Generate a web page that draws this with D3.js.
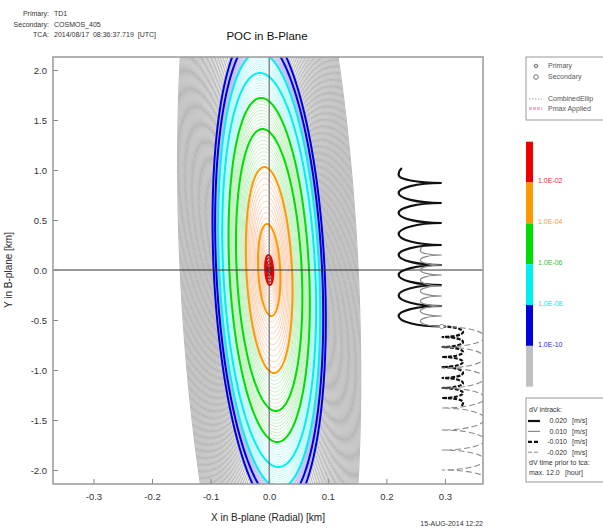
<!DOCTYPE html>
<html>
<head>
<meta charset="utf-8">
<script src="https://cdn.jsdelivr.net/npm/d3@7"></script>
<style>
body { margin: 0; background: #fff; }
svg { font-family: Arial, "Liberation Sans", sans-serif; }
</style>
</head>
<body>
<div id="chart"></div>
<script>
// header text
const headerLabels = ["Primary:", "Secondary:", "TCA:"];
const headerValues = ["TD1", "COSMOS_405", "2014/08/17  08:36:37.719  [UTC]"];

// POC contours : log10(POC) level -> ellipse size (km)
const decadeLevels = [-1.985, -2, -3, -4, -5, -6, -7, -8, -9, -10, -20];
const decadeSemiY  = [0, 0.15, 0.46, 1.03, 1.41, 1.72, 1.97, 2.18, 2.33, 2.44, 4.6];
const decadeHalfX  = [0, 0.0068, 0.0188, 0.039, 0.0555, 0.068, 0.0785, 0.0853, 0.0904, 0.0947, 0.152];
const ellipseLean  = -0.008;   // x shift per km of y
const thickLevels  = [-2, -3, -4, -5, -6, -7, -8, -9, -10];
const coreLevels   = [-1.988, -1.991, -1.994, -1.997];

// colour bands
const bandEdges  = [-2, -4, -6, -8, -10];
const bandLabels = ["1.0E-02", "1.0E-04", "1.0E-06", "1.0E-08", "1.0E-10"];
const bandColors = ["#ee0000", "#ff9900", "#00dd00", "#00f0f0", "#0000dd", "#c0c0c0"];
const bandThin   = ["#c00000", "#f7c4a0", "#b4eeb4", "#b0f4f4", "#b8b8f2", "#b8b8b8"];
const bandText   = ["#e03030", "#f0a040", "#30c030", "#30d8e0", "#2828d0"];

// dV intrack trajectories (km) : turning points from t=0 outwards, alternating cusp / far side
const dvValues = ["0.020", "0.010", "-0.010", "-0.020"];
const dvCuspX  = 0.2945;
const dvFarX   = [0.221, 0.258, 0.331, 0.368];
const dvTurnY  = [
  [-0.565, -0.46, -0.36, -0.255, -0.15, -0.05, 0.05, 0.15, 0.25, 0.36, 0.47, 0.57, 0.67, 0.77, 0.87, 0.95],
  [-0.565, -0.51, -0.46, -0.41, -0.36, -0.31, -0.26, -0.21, -0.16, -0.10, -0.05, 0.0, 0.05, 0.10, 0.15, 0.19],
  [-0.565, -0.62, -0.67, -0.72, -0.77, -0.82, -0.87, -0.92, -0.97, -1.03, -1.08, -1.13, -1.18, -1.23, -1.28, -1.32],
  [-0.565, -0.67, -0.77, -0.875, -0.98, -1.08, -1.18, -1.28, -1.38, -1.49, -1.60, -1.70, -1.80, -1.90, -2.00, -2.08]
];
const dvEnd = [[0.2265, 1.02], [0.2605, 0.23], [0.3285, -1.36], [0.3625, -2.15]];
const dvStyle = [
  {color: "#111", width: 2.2, dash: null},
  {color: "#8a8a8a", width: 1.2, dash: null},
  {color: "#111", width: 2.2, dash: "4,1.5"},
  {color: "#8a8a8a", width: 1.1, dash: "6,3"}
];

const xTicks = [-0.3, -0.2, -0.1, 0.0, 0.1, 0.2, 0.3];
const yTicks = [2.0, 1.5, 1.0, 0.5, 0.0, -0.5, -1.0, -1.5, -2.0];

const W = 603, H = 529;
const plot = {left: 53, right: 483, top: 57, bottom: 484};

const svg = d3.select("#chart").append("svg")
  .attr("width", W).attr("height", H);

const x = d3.scaleLinear().domain([-0.369, 0.365]).range([plot.left, plot.right]);
const y = d3.scaleLinear().domain([-2.14, 2.13]).range([plot.bottom, plot.top]);

svg.append("clipPath").attr("id", "clip")
  .append("rect")
  .attr("x", plot.left).attr("y", plot.top)
  .attr("width", plot.right - plot.left).attr("height", plot.bottom - plot.top);

const g = svg.append("g").attr("clip-path", "url(#clip)");

//ELLIPSES
const semiY = d3.scaleLinear().domain(decadeLevels).range(decadeSemiY);
const halfX = d3.scaleLinear().domain(decadeLevels).range(decadeHalfX);
const angles = d3.range(0, 2 * Math.PI, Math.PI / 120);

function bandOf(l) {
  const i = bandEdges.findIndex(e => l >= e - 1e-9);
  return i < 0 ? bandEdges.length : i;
}

function ellipse(l) {
  const s = semiY(l), h = halfX(l);
  return d3.line()
    .curve(d3.curveLinearClosed)
    .x(a => x(h * Math.cos(a) + ellipseLean * s * Math.sin(a)))
    .y(a => y(s * Math.sin(a)))(angles);
}

// thin contour levels, 10 per decade, coarser in the grey part
const thinLevels = d3.range(-2.1, -10, -0.1)
  .filter(l => Math.abs(l - Math.round(l)) > 0.01)
  .concat(d3.range(-10.25, -20.01, -0.25))
  .concat(coreLevels);

g.selectAll(".thin")
  .data(thinLevels)
  .enter().append("path")
  .attr("class", "thin")
  .attr("d", ellipse)
  .attr("fill", "none")
  .attr("stroke", l => bandThin[bandOf(l)])
  .attr("stroke-width", l => l > -2 ? 1.2 : (l < -10 ? 1 : 0.8));

g.selectAll(".thick")
  .data(thickLevels)
  .enter().append("path")
  .attr("class", "thick")
  .attr("d", ellipse)
  .attr("fill", "none")
  .attr("stroke", l => bandColors[bandOf(l)])
  .attr("stroke-width", 2);

// zero lines
g.append("line")
  .attr("x1", plot.left).attr("x2", plot.right)
  .attr("y1", y(0)).attr("y2", y(0))
  .attr("stroke", "#333").attr("stroke-width", 1);
g.append("line")
  .attr("x1", x(0)).attr("x2", x(0))
  .attr("y1", plot.top).attr("y2", plot.bottom)
  .attr("stroke", "#555").attr("stroke-width", 1);

//DV TRAJECTORIES
function trajectory(i) {
  const p = d3.path();
  const ys = dvTurnY[i], xf = dvFarX[i], x0 = dvCuspX;
  p.moveTo(x(x0), y(ys[0]));
  for (let k = 1; k < ys.length; k++) {
    const ya = y(ys[k - 1]), yb = y(ys[k]);
    if (k % 2 == 1) {
      // cusp -> far side
      p.bezierCurveTo(x(x0) + 0.6 * (x(xf) - x(x0)), ya, x(xf), yb + 0.5 * (ya - yb), x(xf), yb);
    } else {
      // far side -> cusp
      p.bezierCurveTo(x(xf), ya + 0.5 * (yb - ya), x(x0) + 0.6 * (x(xf) - x(x0)), yb, x(x0), yb);
    }
  }
  const e = dvEnd[i], yl = y(ys[ys.length - 1]);
  p.quadraticCurveTo(x(xf), yl + 0.6 * (y(e[1]) - yl), x(e[0]), y(e[1]));
  return p.toString();
}

dvValues.forEach((v, i) => {
  g.append("path")
    .attr("d", trajectory(i))
    .attr("fill", "none")
    .attr("stroke", dvStyle[i].color)
    .attr("stroke-width", dvStyle[i].width)
    .attr("stroke-dasharray", dvStyle[i].dash);
});

g.append("circle")
  .attr("cx", x(dvCuspX)).attr("cy", y(dvTurnY[0][0]))
  .attr("r", 2.2)
  .attr("fill", "#fff").attr("stroke", "#999").attr("stroke-width", 1);

//AXES
const fmt = d => d.toFixed(1);

const xAxis = svg.append("g")
  .attr("transform", "translate(0," + plot.bottom + ")")
  .call(d3.axisBottom(x).tickValues(xTicks).tickFormat(fmt).tickSizeInner(-5).tickSizeOuter(0).tickPadding(9));
const yAxis = svg.append("g")
  .attr("transform", "translate(" + plot.left + ",0)")
  .call(d3.axisLeft(y).tickValues(yTicks).tickFormat(fmt).tickSizeInner(-5).tickSizeOuter(0).tickPadding(6));

[xAxis, yAxis].forEach(a => {
  a.select(".domain").remove();
  a.selectAll(".tick line").attr("stroke", "#888");
  a.selectAll(".tick text").attr("fill", "#333").style("font-size", "9.5px");
});

svg.append("rect")
  .attr("x", plot.left).attr("y", plot.top)
  .attr("width", plot.right - plot.left).attr("height", plot.bottom - plot.top)
  .attr("fill", "none").attr("stroke", "#999").attr("stroke-width", 1.5);

svg.append("text")
  .attr("x", (plot.left + plot.right) / 2).attr("y", 521)
  .attr("text-anchor", "middle")
  .style("font-size", "10px").attr("fill", "#222")
  .text("X in B-plane (Radial) [km]");

svg.append("text")
  .attr("transform", "translate(12," + y(0) + ") rotate(-90)")
  .attr("text-anchor", "middle")
  .style("font-size", "10px").attr("fill", "#222")
  .text("Y in B-plane [km]");

svg.append("text")
  .attr("x", 267).attr("y", 40)
  .attr("text-anchor", "middle")
  .style("font-size", "11.5px").attr("fill", "#111")
  .text("POC in B-Plane");

//HEADER
headerLabels.forEach((t, i) => {
  svg.append("text")
    .attr("x", 49).attr("y", 16 + i * 10.5)
    .attr("text-anchor", "end")
    .style("font-size", "7px").attr("fill", "#333")
    .text(t);
  svg.append("text")
    .attr("x", 54).attr("y", 16 + i * 10.5)
    .style("font-size", "7px").attr("fill", "#333")
    .attr("xml:space", "preserve")
    .style("white-space", "pre")
    .text(headerValues[i]);
});

svg.append("text")
  .attr("x", 483).attr("y", 526)
  .attr("text-anchor", "end")
  .style("font-size", "7px").attr("fill", "#333")
  .text("15-AUG-2014 12:22");

//LEGEND 1
const leg = svg.append("g");
leg.append("rect")
  .attr("x", 526).attr("y", 57).attr("width", 90).attr("height", 63)
  .attr("fill", "#fff").attr("stroke", "#999").attr("stroke-width", 1);

const legTexts = ["Primary", "Secondary", "CombinedEllip", "Pmax Applied"];
const legY = [66, 77, 99, 108.5];
legTexts.forEach((t, i) => {
  leg.append("text")
    .attr("x", 548).attr("y", legY[i]).attr("dy", "0.35em")
    .style("font-size", "7px").attr("fill", "#555")
    .text(t);
});
leg.append("circle").attr("cx", 536).attr("cy", legY[0]).attr("r", 1.8)
  .attr("fill", "none").attr("stroke", "#666").attr("stroke-width", 0.9);
leg.append("circle").attr("cx", 536).attr("cy", legY[0]).attr("r", 0.6).attr("fill", "#666");
leg.append("circle").attr("cx", 536).attr("cy", legY[1]).attr("r", 2.3)
  .attr("fill", "none").attr("stroke", "#666").attr("stroke-width", 0.9);
leg.append("line").attr("x1", 529).attr("x2", 542).attr("y1", legY[2]).attr("y2", legY[2])
  .attr("stroke", "#99a").attr("stroke-width", 1).attr("stroke-dasharray", "1.5,1.5");
leg.append("line").attr("x1", 529).attr("x2", 542).attr("y1", legY[3]).attr("y2", legY[3])
  .attr("stroke", "#f5b8c8").attr("stroke-width", 3).attr("stroke-dasharray", "3,1");

//COLOR BAR
const cb = d3.scaleBand().domain(d3.range(bandColors.length)).range([141.7, 386.7]);
svg.selectAll(".cbar")
  .data(bandColors)
  .enter().append("rect")
  .attr("class", "cbar")
  .attr("x", 526).attr("width", 7)
  .attr("y", (d, i) => cb(i)).attr("height", cb.bandwidth())
  .attr("fill", d => d);

svg.selectAll(".cblab")
  .data(bandLabels)
  .enter().append("text")
  .attr("class", "cblab")
  .attr("x", 538).attr("y", (d, i) => cb(i) + cb.bandwidth() - 1.5)
  .attr("dy", "0.35em")
  .style("font-size", "7px")
  .attr("fill", (d, i) => bandText[i])
  .text(d => d);

//LEGEND DV
const lg = svg.append("g");
lg.append("rect")
  .attr("x", 526).attr("y", 398).attr("width", 90).attr("height", 84)
  .attr("fill", "#fff").attr("stroke", "#999").attr("stroke-width", 1);
lg.append("text").attr("x", 529).attr("y", 410).attr("dy", "0.35em")
  .style("font-size", "7px").attr("fill", "#333").text("dV intrack:");
dvValues.forEach((v, i) => {
  const yy = 421 + i * 10.4;
  lg.append("line").attr("x1", 528).attr("x2", 540).attr("y1", yy).attr("y2", yy)
    .attr("stroke", dvStyle[i].color).attr("stroke-width", dvStyle[i].width)
    .attr("stroke-dasharray", dvStyle[i].dash ? "4,2" : null);
  lg.append("text").attr("x", 567).attr("y", yy).attr("dy", "0.35em")
    .attr("text-anchor", "end")
    .style("font-size", "7px").attr("fill", "#333").text(v);
  lg.append("text").attr("x", 572).attr("y", yy).attr("dy", "0.35em")
    .style("font-size", "7px").attr("fill", "#333").text("[m/s]");
});
lg.append("text").attr("x", 529).attr("y", 462.5).attr("dy", "0.35em")
  .style("font-size", "7px").attr("fill", "#333").text("dV time prior to tca:");
lg.append("text").attr("x", 529).attr("y", 473).attr("dy", "0.35em")
  .style("font-size", "7px").attr("fill", "#333").text("max. 12.0");
lg.append("text").attr("x", 565).attr("y", 473).attr("dy", "0.35em")
  .style("font-size", "7px").attr("fill", "#333").text("[hour]");
</script>
</body>
</html>
